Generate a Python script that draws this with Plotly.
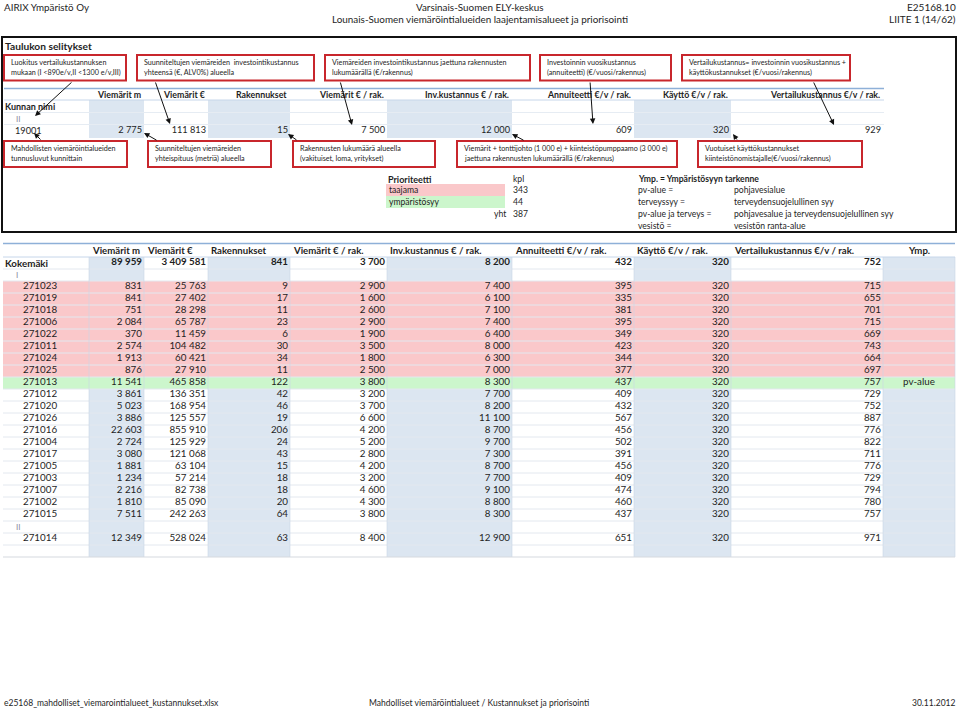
import plotly.graph_objects as go

FONT = "Lato"
TXT = "#1e1e1e"
BLUE = "#DCE6F1"
PINK = "#FAC8CA"
GREEN = "#CCF6CC"
RED = "#C8262C"

# ---------------- data ----------------
header_left = "AIRIX Ympäristö Oy"
header_center = ["Varsinais-Suomen ELY-keskus",
                 "Lounais-Suomen viemäröintialueiden laajentamisalueet ja priorisointi"]
header_right = ["E25168.10", "LIITE 1 (14/62)"]
footer_texts = ["e25168_mahdolliset_viemarointialueet_kustannukset.xlsx",
                "Mahdolliset viemäröintialueet / Kustannukset ja priorisointi",
                "30.11.2012"]

legend_title = "Taulukon selitykset"
columns = ["Viemärit m", "Viemärit €", "Rakennukset", "Viemärit € / rak.",
           "Inv.kustannus € / rak.", "Annuiteetti €/v / rak.", "Käyttö €/v / rak.",
           "Vertailukustannus €/v / rak."]
ymp_col = "Ymp."

top_boxes = [
    ["Luokitus vertailukustannuksen", "mukaan (I <890e/v,II <1300 e/v,III)"],
    ["Suunniteltujen viemäreiden  investointikustannus", "yhteensä (€, ALV0%) alueella"],
    ["Viemäreiden investointikustannus jaettuna rakennusten", "lukumäärällä (€/rakennus)"],
    ["Investoinnin vuosikustannus", "(annuiteetti) (€/vuosi/rakennus)"],
    ["Vertailukustannus= investoinnin vuosikustannus +", "käyttökustannukset (€/vuosi/rakennus)"],
]
bottom_boxes = [
    ["Mahdollisten viemäröintialueiden", "tunnusluvut kunnittain"],
    ["Suunniteltujen viemäreiden", "yhteispituus (metriä) alueella"],
    ["Rakennusten lukumäärä alueella", "(vakituiset, loma, yritykset)"],
    ["Viemärit + tonttijohto (1 000 e) + kiinteistöpumppaamo (3 000 e)",
     "jaettuna rakennusten lukumäärällä (€/rakennus)"],
    ["Vuotuiset käyttökustannukset", "kiinteistönomistajalle(€/vuosi/rakennus)"],
]

example_name = "Kunnan nimi"
example_class = "II"
example_code = "19001"
example_values = [2775, 111813, 15, 7500, 12000, 609, 320, 929]

prio_title = "Prioriteetti"
prio_count_title = "kpl"
prio_labels = ["taajama", "ympäristösyy"]
prio_counts = [343, 44]
prio_total_label = "yht"
prio_total = 387
ymp_title = "Ymp. = Ympäristösyyn tarkenne"
ymp_keys = ["pv-alue =", "terveyssyy =", "pv-alue ja terveys =", "vesistö ="]
ymp_desc = ["pohjavesialue", "terveydensuojelullinen syy",
            "pohjavesalue ja terveydensuojelullinen syy", "vesistön ranta-alue"]

municipality = "Kokemäki"
municipality_totals = [89959, 3409581, 841, 3700, 8200, 432, 320, 752]

codes = ["271023", "271019", "271018", "271006", "271022", "271011", "271024", "271025",
         "271013", "271012", "271020", "271026", "271016", "271004", "271017", "271005",
         "271003", "271007", "271002", "271015", "271014"]
luokka = ["I", "I", "I", "I", "I", "I", "I", "I", "I", "I", "I", "I", "I", "I", "I", "I",
          "I", "I", "I", "I", "II"]
prioriteetti = ["taajama", "taajama", "taajama", "taajama", "taajama", "taajama", "taajama",
                "taajama", "ympäristösyy", "", "", "", "", "", "", "", "", "", "", "", ""]
viemarit_m = [831, 841, 751, 2084, 370, 2574, 1913, 876, 11541, 3861, 5023, 3886, 22603,
              2724, 3080, 1881, 1234, 2216, 1810, 7511, 12349]
viemarit_eur = [25763, 27402, 28298, 65787, 11459, 104482, 60421, 27910, 465858, 136351,
                168954, 125557, 855910, 125929, 121068, 63104, 57214, 82738, 85090, 242263,
                528024]
rakennukset = [9, 17, 11, 23, 6, 30, 34, 11, 122, 42, 46, 19, 206, 24, 43, 15, 18, 18, 20,
               64, 63]
viemarit_per_rak = [2900, 1600, 2600, 2900, 1900, 3500, 1800, 2500, 3800, 3200, 3700, 6600,
                    4200, 5200, 2800, 4200, 3200, 4600, 4300, 3800, 8400]
inv_per_rak = [7400, 6100, 7100, 7400, 6400, 8000, 6300, 7000, 8300, 7700, 8200, 11100, 8700,
               9700, 7300, 8700, 7700, 9100, 8800, 8300, 12900]
annuiteetti = [395, 335, 381, 395, 349, 423, 344, 377, 437, 409, 432, 567, 456, 502, 391,
               456, 409, 474, 460, 437, 651]
kaytto = [320, 320, 320, 320, 320, 320, 320, 320, 320, 320, 320, 320, 320, 320, 320, 320,
          320, 320, 320, 320, 320]
vertailu = [715, 655, 701, 715, 669, 743, 664, 697, 757, 729, 752, 887, 776, 822, 711, 776,
            729, 794, 780, 757, 971]
ymp = ["", "", "", "", "", "", "", "", "pv-alue", "", "", "", "", "", "", "", "", "", "",
       "", ""]

# ---------------- helpers ----------------
def fmt(v):
    return f"{v:,}".replace(",", " ")

fig = go.Figure()
shapes = []
ann = []

def text(x, y, s, size=9, anchor="left", bold=False, color=TXT):
    ann.append(dict(x=x, y=y, xref="x", yref="y", text=(f"<b>{s}</b>" if bold else s),
                    showarrow=False, xanchor=anchor, yanchor="middle",
                    font=dict(family=FONT, size=size, color=color)))

def rect(x0, y0, x1, y1, fill=None, line=None, width=1):
    shapes.append(dict(type="rect", xref="x", yref="y", x0=x0, y0=y0, x1=x1, y1=y1,
                       fillcolor=fill if fill else "rgba(0,0,0,0)",
                       line=dict(color=line if line else "rgba(0,0,0,0)", width=width),
                       layer="below"))

def hline(x0, x1, y, color, width=1):
    shapes.append(dict(type="line", xref="x", yref="y", x0=x0, x1=x1, y0=y, y1=y,
                       line=dict(color=color, width=width), layer="below"))

def vline(x, y0, y1, color, width=1):
    shapes.append(dict(type="line", xref="x", yref="y", x0=x, x1=x, y0=y0, y1=y1,
                       line=dict(color=color, width=width), layer="below"))

def arrow(tx, ty, hx, hy):
    ann.append(dict(x=hx, y=hy, ax=tx, ay=ty, xref="x", yref="y", axref="x", ayref="y",
                    text="", showarrow=True, arrowhead=2, arrowsize=1.1, arrowwidth=1,
                    arrowcolor="#111"))

col_edges = [89, 144, 208, 290, 387, 512, 634, 731, 883, 955]

# ---------------- page header / footer ----------------
text(2, 7, header_left, 9.8)
text(480, 6.5, header_center[0], 9.9, "center")
text(480, 18.5, header_center[1], 9.9, "center")
text(958, 6.5, header_right[0], 10, "right")
text(958, 18.5, header_right[1], 10, "right")
text(2, 703, footer_texts[0], 8.5)
text(479, 703, footer_texts[1], 8.5, "center")
text(958, 703, footer_texts[2], 8.5, "right")

# ---------------- legend box ----------------
shapes.append(dict(type="rect", xref="x", yref="y", x0=2, y0=37, x1=956, y1=232,
                   line=dict(color="#111", width=2), fillcolor="rgba(0,0,0,0)", layer="above"))
text(3, 45.5, legend_title, 10.2, bold=True)

top_box_x = [(4, 126), (137, 314), (325, 530), (540, 671), (682, 850)]
for (x0, x1), lines in zip(top_box_x, top_boxes):
    shapes.append(dict(type="rect", xref="x", yref="y", x0=x0, y0=55, x1=x1, y1=80.5,
                       line=dict(color=RED, width=2), fillcolor="rgba(0,0,0,0)", layer="above"))
    text(x0 + 5, 62.5, lines[0], 7.2)
    text(x0 + 5, 72.5, lines[1], 7.2)

bot_box_x = [(4, 127), (148, 271), (293, 435), (457, 677), (698, 862)]
for (x0, x1), lines in zip(bot_box_x, bottom_boxes):
    shapes.append(dict(type="rect", xref="x", yref="y", x0=x0, y0=141, x1=x1, y1=167,
                       line=dict(color=RED, width=2), fillcolor="rgba(0,0,0,0)", layer="above"))
    text(x0 + 5, 148.5, lines[0], 7.2)
    text(x0 + 5, 158.5, lines[1], 7.2)

# example table
for i in range(0, 8, 2):
    rect(col_edges[i], 100, col_edges[i + 1], 138, fill=BLUE)
hline(4, 884, 88.5, "#8EB0D8", 1.5)
hline(4, 884, 100, "#C6D6EA", 1)
for yy in (112.5, 124.5):
    hline(4, 884, yy, "#E6ECF3", 1)
for j, c in enumerate(columns):
    text(col_edges[j + 1] - 1, 94.5, c, 8.8, "right", bold=True)
text(3, 106.5, example_name, 9, bold=True)
text(14, 118.5, example_class, 8, color="#8a8aa0")
text(13, 130.5, example_code, 9.2)
fig.add_trace(go.Scatter(
    x=[col_edges[j + 1] - 2 for j in range(len(example_values))],
    y=[130.5] * len(example_values),
    text=[fmt(v) for v in example_values], mode="text", textposition="middle left",
    textfont=dict(family=FONT, size=9.2, color=TXT), hoverinfo="skip"))

arrows_top = [((73, 81), (35, 116)), ((155, 81), (170, 124)), ((340, 81), (352, 125)),
              ((590, 81), (593, 124)), ((813, 81), (834, 125))]
arrows_bot = [((42, 141), (34, 133)), ((158, 141), (144, 133)), ((298, 141), (288, 134)),
              ((525, 141), (512, 134)), ((738, 141), (733, 134))]
for (t, h) in arrows_top + arrows_bot:
    arrow(t[0], t[1], h[0], h[1])

# priority summary
text(386, 179, prio_title, 9, bold=True)
text(511, 179, prio_count_title, 8.6)
prio_colors = [PINK, GREEN]
for k, (lab, cnt) in enumerate(zip(prio_labels, prio_counts)):
    yc = 190 + 12 * k
    rect(386, yc - 6, 505, yc + 6, fill=prio_colors[k])
    text(387, yc, lab, 8.6)
    text(511, yc, str(cnt), 8.6)
text(508, 214, prio_total_label, 8.6, "right")
text(511, 214, str(prio_total), 8.6)
text(636, 179, ymp_title, 8.6, bold=True)
for k, (a, b) in enumerate(zip(ymp_keys, ymp_desc)):
    yc = 190 + 12 * k
    text(636, yc, a, 8.6)
    text(732, yc, b, 8.6)

# ---------------- main table ----------------
rows = []
prev = None
for i, c in enumerate(codes):
    if luokka[i] != prev:
        rows.append(("class", luokka[i]))
        prev = luokka[i]
    rows.append(("data", i))

RH = 12
top = 257
n_rows = 1 + len(rows) + 1
bottom = top + RH * n_rows

for i in range(0, 10, 2):
    rect(col_edges[i], top, col_edges[i + 1], bottom, fill=BLUE)

row_y = {}
for r, (kind, v) in enumerate(rows):
    yc = top + RH * (r + 1) + RH / 2
    row_y[r] = yc
    if kind == "data":
        p = prioriteetti[v]
        if p == prio_labels[0]:
            rect(3, yc - RH / 2, 955, yc + RH / 2, fill=PINK)
        elif p == prio_labels[1]:
            rect(3, yc - RH / 2, 955, yc + RH / 2, fill=GREEN)

for r in range(1, n_rows):
    hline(3, 955, top + RH * r, "#E3E8EF", 1)
for e in col_edges:
    vline(e, top, bottom, "#C9D6E6", 0.6)
hline(3, 955, 243.5, "#8EB0D8", 1.5)
hline(3, 955, top, "#C6D6EA", 1)
hline(3, 955, bottom, "#D5DAE0", 1.2)

for j, c in enumerate(columns):
    text(col_edges[j] + 1, 250, c, 9.6, bold=True)
text((col_edges[8] + col_edges[9]) / 2, 250, ymp_col, 9.6, "center", bold=True)

y_mun = top + RH / 2
text(3, y_mun, municipality, 9.8, bold=True)
fig.add_trace(go.Scatter(
    x=[col_edges[j + 1] - 2 for j in range(len(municipality_totals))],
    y=[y_mun] * len(municipality_totals),
    text=[f"<b>{fmt(v)}</b>" for v in municipality_totals], mode="text",
    textposition="middle left", textfont=dict(family=FONT, size=9.8, color=TXT),
    hoverinfo="skip"))

for r, (kind, v) in enumerate(rows):
    if kind == "class":
        text(14, row_y[r], v, 8, color="#8a8aa0")

data_r = [r for r, (kind, v) in enumerate(rows) if kind == "data"]
ys = [row_y[r] for r in data_r]
fig.add_trace(go.Scatter(x=[23] * len(codes), y=ys, text=codes, mode="text",
                         textposition="middle right",
                         textfont=dict(family=FONT, size=9.8, color=TXT), hoverinfo="skip"))
series = [viemarit_m, viemarit_eur, rakennukset, viemarit_per_rak, inv_per_rak,
          annuiteetti, kaytto, vertailu]
for j, s in enumerate(series):
    fig.add_trace(go.Scatter(x=[col_edges[j + 1] - 2] * len(s), y=ys,
                             text=[fmt(v) for v in s], mode="text",
                             textposition="middle left",
                             textfont=dict(family=FONT, size=9.8, color=TXT),
                             hoverinfo="skip"))
fig.add_trace(go.Scatter(x=[(col_edges[8] + col_edges[9]) / 2] * len(ymp), y=ys, text=ymp,
                         mode="text", textposition="middle center",
                         textfont=dict(family=FONT, size=9.8, color=TXT), hoverinfo="skip"))

fig.update_layout(
    width=960, height=711, margin=dict(l=0, r=0, t=0, b=0),
    paper_bgcolor="white", plot_bgcolor="white", showlegend=False,
    xaxis=dict(range=[0, 960], visible=False, fixedrange=True),
    yaxis=dict(range=[711, 0], visible=False, fixedrange=True),
    shapes=shapes, annotations=ann,
)
fig.write_html("out.html", config={"displayModeBar": False},
               post_script="document.body.style.margin='0';document.body.style.overflow='hidden';")
